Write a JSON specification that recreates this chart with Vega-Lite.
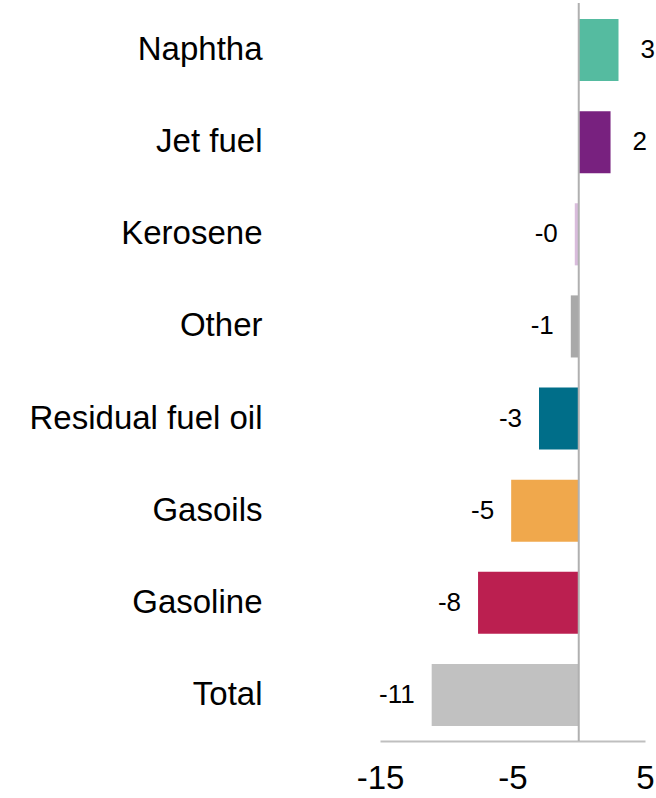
{
  "$schema": "https://vega.github.io/schema/vega-lite/v6.json",
  "autosize": "none",
  "padding": {"left": 380, "top": 4, "right": 11, "bottom": 57},
  "width": 265,
  "height": 737,
  "background": "white",
  "config": {"view": {"stroke": null}, "font": "Liberation Sans"},
  "layer": [
    {
      "data": {"name": "bars", "values": [
        {"product": "Naphtha", "value": 3.0, "label": "3", "color": "#55bba0"},
        {"product": "Jet fuel", "value": 2.4, "label": "2", "color": "#78217f"},
        {"product": "Kerosene", "value": -0.3, "label": "-0", "color": "#d9bcdc"},
        {"product": "Other", "value": -0.6, "label": "-1", "color": "#a9a9a9"},
        {"product": "Residual fuel oil", "value": -3.0, "label": "-3", "color": "#006e89"},
        {"product": "Gasoils", "value": -5.1, "label": "-5", "color": "#f0a84c"},
        {"product": "Gasoline", "value": -7.6, "label": "-8", "color": "#bb1f50"},
        {"product": "Total", "value": -11.1, "label": "-11", "color": "#c1c1c1"}
      ]},
      "layer": [
        {
          "mark": {"type": "bar"},
          "encoding": {
            "y": {
              "field": "product", "type": "nominal",
              "sort": ["Naphtha", "Jet fuel", "Kerosene", "Other", "Residual fuel oil", "Gasoils", "Gasoline", "Total"],
              "scale": {"paddingInner": 0.326, "paddingOuter": 0.163},
              "axis": {"title": null, "domain": false, "ticks": false, "labelFontSize": 33, "labelColor": "#000000", "labelPadding": 118, "labelLimit": 400, "labelFont": "Liberation Sans"}
            },
            "x": {
              "field": "value", "type": "quantitative",
              "scale": {"domain": [-15, 5], "nice": false, "zero": false},
              "axis": {"title": null, "values": [-15, -5, 5], "grid": false, "ticks": false, "domainColor": "#bfbfbf", "domainWidth": 2, "labelFontSize": 33, "labelColor": "#000000", "labelPadding": 21, "labelFont": "Liberation Sans", "labelFlush": false, "labelExpr": "datum.value + ''"}
            },
            "color": {"field": "color", "type": "nominal", "scale": null}
          }
        },
        {
          "transform": [{"filter": "datum.value >= 0"}],
          "mark": {"type": "text", "align": "left", "baseline": "middle", "dx": 22, "fontSize": 26, "color": "#000000"},
          "encoding": {
            "y": {"field": "product", "type": "nominal", "sort": ["Naphtha", "Jet fuel", "Kerosene", "Other", "Residual fuel oil", "Gasoils", "Gasoline", "Total"]},
            "x": {"field": "value", "type": "quantitative"},
            "text": {"field": "label"}
          }
        },
        {
          "transform": [{"filter": "datum.value < 0"}],
          "mark": {"type": "text", "align": "right", "baseline": "middle", "dx": -17, "fontSize": 26, "color": "#000000"},
          "encoding": {
            "y": {"field": "product", "type": "nominal", "sort": ["Naphtha", "Jet fuel", "Kerosene", "Other", "Residual fuel oil", "Gasoils", "Gasoline", "Total"]},
            "x": {"field": "value", "type": "quantitative"},
            "text": {"field": "label"}
          }
        }
      ]
    },
    {
      "data": {"values": [{"zero": 0}]},
      "mark": {"type": "rule", "color": "#b0b0b0", "strokeWidth": 2, "y": -1, "y2": 737},
      "encoding": {"x": {"field": "zero", "type": "quantitative"}}
    }
  ]
}
